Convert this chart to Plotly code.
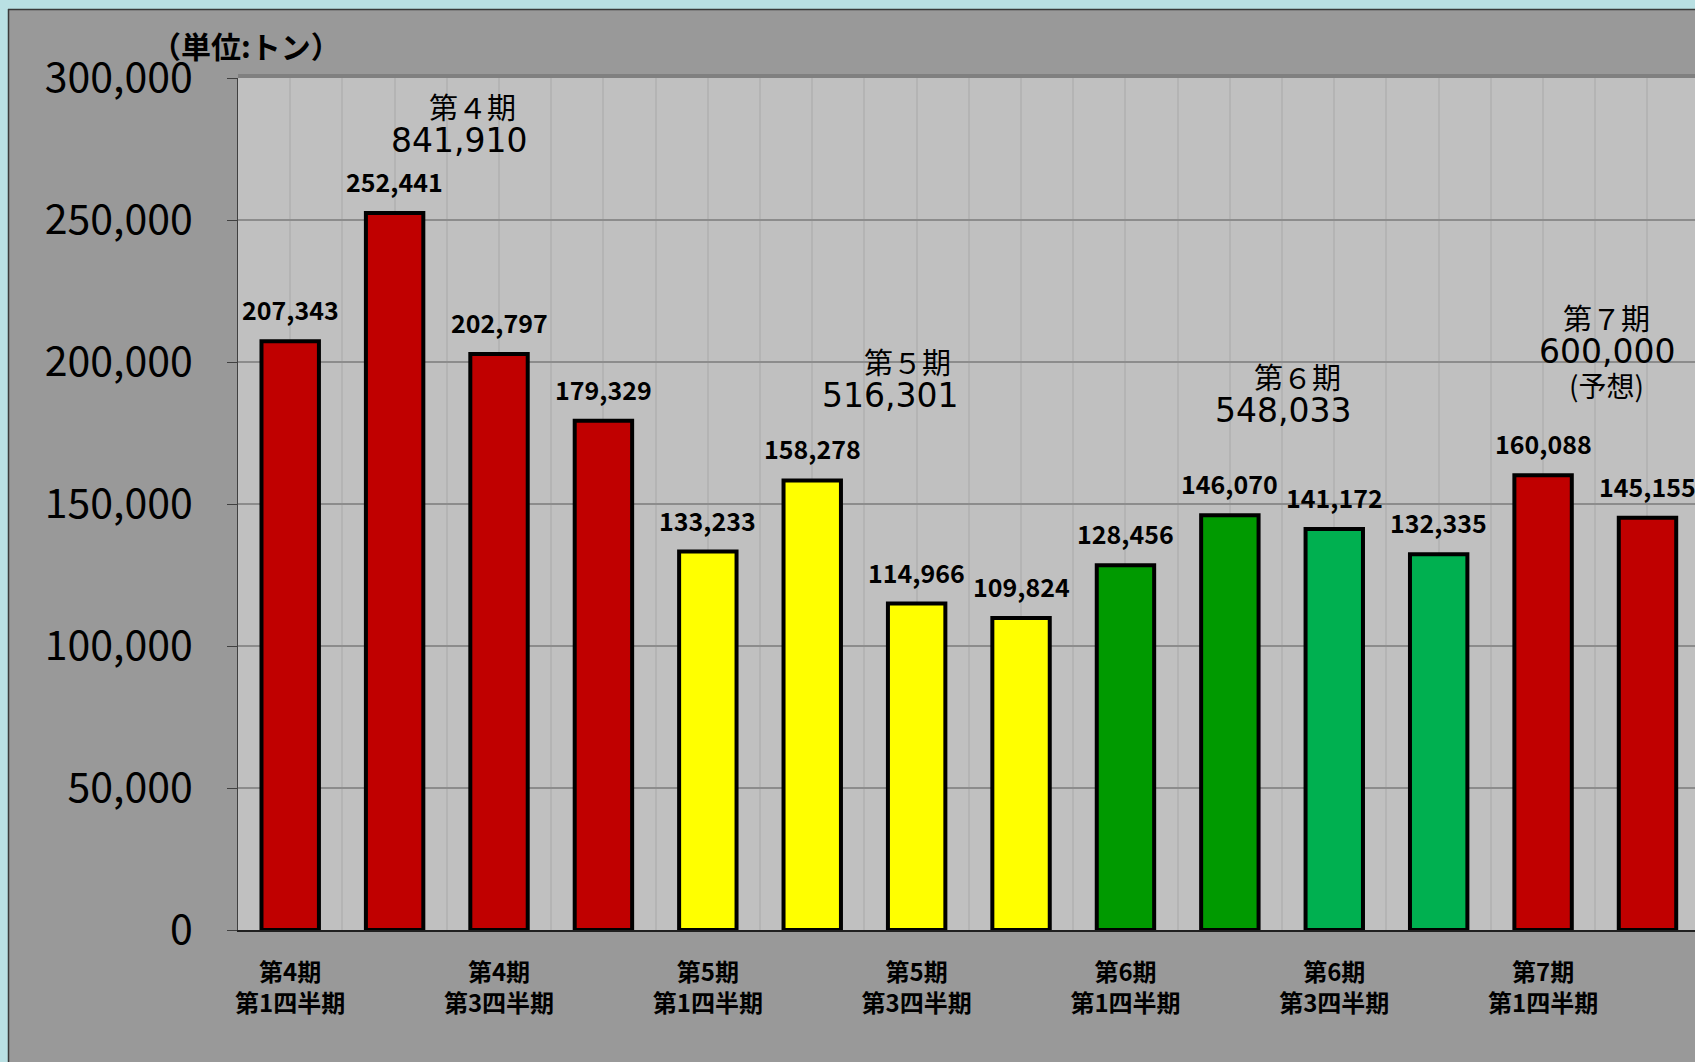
import plotly.graph_objects as go

# ---------------- data ----------------
periods = ["第4期"] * 4 + ["第5期"] * 4 + ["第6期"] * 4 + ["第7期"] * 2
quarters = ["第1四半期", "第2四半期", "第3四半期", "第4四半期"] * 3 + ["第1四半期", "第2四半期"]
values = [207343, 252441, 202797, 179329,
          133233, 158278, 114966, 109824,
          128456, 146070, 141172, 132335,
          160088, 145155]
period_names = ["第４期", "第５期", "第６期", "第７期"]
period_totals = [841910, 516301, 548033, 600000]
period_notes = ["", "", "", "(予想)"]
y_tick_values = [0, 50000, 100000, 150000, 200000, 250000, 300000]
unit_label = "（単位:トン）"

# ---------------- styles ----------------
bar_colors = ["#C00000"] * 4 + ["#FFFF00"] * 4 + ["#009A00"] * 2 + ["#00B050"] * 2 + ["#C00000"] * 2
# positions of the period summary labels (data coords: x of title, x of number, y of title)
period_label_pos = [(1.75, 1.62, 290300), (5.91, 5.74, 200400), (9.65, 9.51, 195100), (12.61, 12.61, 215900)]

W, H = 1695, 1062
L, R, T, B = 238, 0, 78, 132
PW, PH = W - L - R, H - T - B


def px_x(p):
    return (p - L) / PW


def px_y(q):
    return (H - B - q) / PH


idx = list(range(len(values)))
tick_labels = [f"{p}<br>{q}" for p, q in zip(periods, quarters)]

fig = go.Figure()
fig.add_trace(go.Bar(
    x=idx, y=values, width=0.55,
    marker=dict(color=bar_colors, line=dict(color="#000000", width=4)),
    hoverinfo="skip",
))

annotations = []
for i, v in zip(idx, values):
    annotations.append(dict(
        x=i, y=v, text=f"<b>{v:,}</b>", showarrow=False, yshift=32, yanchor="middle",
        font=dict(family="Noto Sans CJK JP", size=25, color="#000000"),
    ))

for (name, total, note, pos) in zip(period_names, period_totals, period_notes, period_label_pos):
    xt, xn, yt = pos
    annotations.append(dict(x=xt, y=yt, text=name, showarrow=False, yanchor="middle",
                            font=dict(family="Noto Sans CJK JP", size=29, color="#000000")))
    annotations.append(dict(x=xn, y=yt, yshift=-35, text=f"{total:,}", showarrow=False, yanchor="middle",
                            font=dict(family="DejaVu Sans", size=33, color="#000000")))
    if note:
        annotations.append(dict(x=xn, y=yt, yshift=-68, text=note, showarrow=False, yanchor="middle",
                                font=dict(family="Noto Sans CJK JP", size=28, color="#000000")))

annotations.append(dict(xref="paper", yref="paper", x=px_x(246), y=px_y(45), text=f"<b>{unit_label}</b>",
                        showarrow=False, xanchor="center", yanchor="middle",
                        font=dict(family="Noto Sans CJK JP", size=30, color="#000000")))

shapes = [
    # cyan frame strips
    dict(type="rect", xref="paper", yref="paper", x0=px_x(0), x1=px_x(W), y0=px_y(9), y1=px_y(0),
         fillcolor="#B9E0E3", line=dict(width=0), layer="above"),
    dict(type="rect", xref="paper", yref="paper", x0=px_x(0), x1=px_x(8), y0=px_y(H), y1=px_y(0),
         fillcolor="#B9E0E3", line=dict(width=0), layer="above"),
    dict(type="line", xref="paper", yref="paper", x0=px_x(8), x1=px_x(W), y0=px_y(9.5), y1=px_y(9.5),
         line=dict(color="#3A3A3A", width=1.5), layer="above"),
    dict(type="line", xref="paper", yref="paper", x0=px_x(8.5), x1=px_x(8.5), y0=px_y(H), y1=px_y(9),
         line=dict(color="#3A3A3A", width=1.5), layer="above"),
    # plot-area top shadow band
    dict(type="rect", xref="paper", yref="paper", x0=0, x1=1, y0=1, y1=px_y(T - 4),
         fillcolor="#808080", line=dict(width=0), layer="above"),
]

fig.update_layout(
    width=W, height=H,
    margin=dict(l=L, r=R, t=T, b=B, pad=0),
    paper_bgcolor="#999999",
    plot_bgcolor="#C0C0C0",
    showlegend=False,
    annotations=annotations,
    shapes=shapes,
    xaxis=dict(
        range=[-0.5, 13.455], tickmode="array", tickvals=idx[::2], ticktext=tick_labels[::2],
        ticks="", ticklen=0, ticklabelstandoff=20,
        tickfont=dict(family="Noto Sans CJK JP", size=24, color="#000000", weight="bold"),
        showgrid=True, gridcolor="#B4B4B4", gridwidth=2,
        minor=dict(tick0=0, dtick=0.5, showgrid=True, gridcolor="#B4B4B4", gridwidth=2, ticks=""),
        showline=True, linecolor="#202020", linewidth=2, zeroline=False, fixedrange=True,
    ),
    yaxis=dict(
        range=[0, 300000], tickmode="array", tickvals=y_tick_values,
        ticktext=[f"{v:,}" for v in y_tick_values],
        ticks="outside", ticklen=10, tickcolor="#404040", tickwidth=1, ticklabelstandoff=26,
        tickfont=dict(family="Noto Sans CJK JP", size=41, color="#000000"),
        showgrid=True, gridcolor="#8C8C8C", gridwidth=2,
        showline=True, linecolor="#404040", linewidth=1, zeroline=False, fixedrange=True,
    ),
    bargap=0.45,
)

fig.write_html("out.html")
